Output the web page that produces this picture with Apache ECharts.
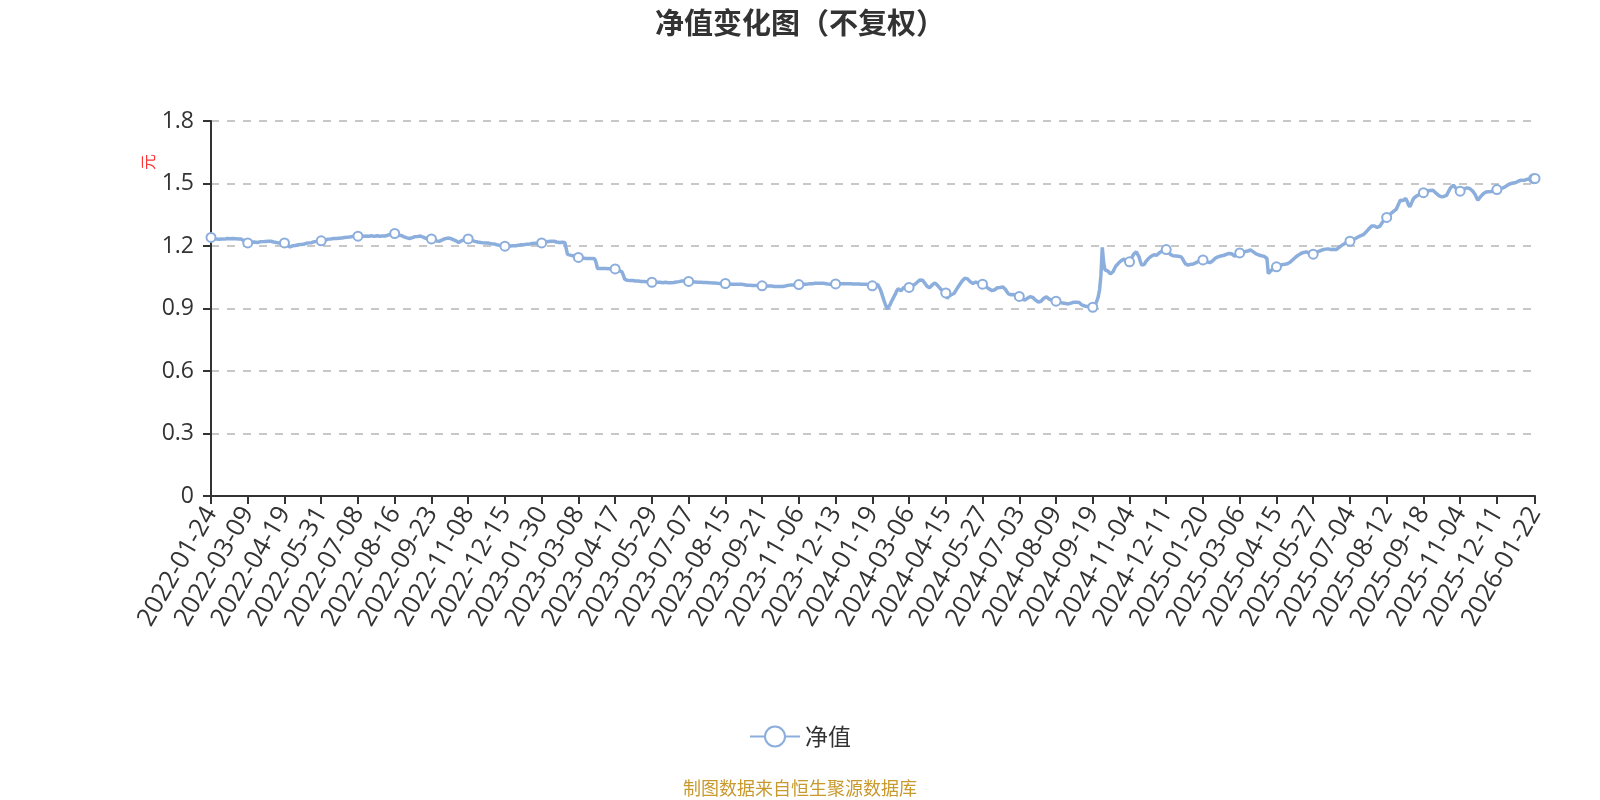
<!DOCTYPE html>
<html>
<head>
<meta charset="utf-8">
<title>净值变化图</title>
<script src="https://cdn.jsdelivr.net/npm/echarts@6/dist/echarts.min.js"></script>
<style>
  html, body { margin: 0; padding: 0; background: #fff; }
  #chart { width: 1600px; height: 800px; }
</style>
</head>
<body>
<div id="chart"></div>
<script>
// trading calendar of the fund: weekdays minus exchange holidays, plus quarter-end NAV dates on weekends
const startDate = '2022-01-24'
const endDate = '2026-01-22'
const holidays = [
    '2022-01-31', '2022-02-01', '2022-02-02', '2022-02-03', '2022-02-04', '2022-04-04', '2022-04-05',
    '2022-05-02', '2022-05-03', '2022-05-04', '2022-06-03', '2022-09-12',
    '2022-10-03', '2022-10-04', '2022-10-05', '2022-10-06', '2022-10-07',
    '2023-01-02', '2023-01-23', '2023-01-24', '2023-01-25', '2023-01-26', '2023-01-27', '2023-04-05',
    '2023-05-01', '2023-05-02', '2023-05-03', '2023-06-22', '2023-06-23', '2023-09-29',
    '2023-10-02', '2023-10-03', '2023-10-04', '2023-10-05', '2023-10-06',
    '2024-01-01', '2024-02-09', '2024-02-12', '2024-02-13', '2024-02-14', '2024-02-15', '2024-02-16',
    '2024-04-04', '2024-04-05', '2024-05-01', '2024-05-02', '2024-05-03', '2024-06-10',
    '2024-09-16', '2024-09-17', '2024-10-01', '2024-10-02', '2024-10-03', '2024-10-04', '2024-10-07',
    '2025-01-01', '2025-01-28', '2025-01-29', '2025-01-30', '2025-01-31', '2025-02-03', '2025-02-04',
    '2025-04-04', '2025-05-01', '2025-05-02', '2025-05-05', '2025-06-02',
    '2025-10-01', '2025-10-02', '2025-10-03', '2025-10-06', '2025-10-07', '2025-10-08',
    '2026-01-01', '2026-01-02'
]
const extraNavDates = ['2022-12-31', '2023-09-30', '2023-12-31', '2024-03-31', '2024-06-30']

// 单位净值（元），按年份
const nav2022 = [
    1.241, 1.238, 1.236, 1.235, 1.233, 1.234, 1.232, 1.233, 1.234, 1.232, 1.233, 1.235, 1.236, 1.234, 1.235, 1.237, 1.236, 1.236, 1.235, 1.236, 1.234, 1.235, 1.234, 1.233, 1.226, 1.220, 1.217,
    1.215, 1.213, 1.216, 1.218, 1.216, 1.219, 1.218, 1.217, 1.219, 1.220, 1.218, 1.221, 1.220, 1.222, 1.221, 1.223, 1.222, 1.223, 1.221, 1.219, 1.218, 1.217, 1.215, 1.214, 1.217, 1.218, 1.216,
    1.215, 1.209, 1.203, 1.199, 1.196, 1.198, 1.201, 1.203, 1.202, 1.204, 1.206, 1.205, 1.207, 1.209, 1.208, 1.211, 1.213, 1.212, 1.215, 1.217, 1.216, 1.219, 1.221, 1.220, 1.222, 1.224, 1.223,
    1.225, 1.227, 1.229, 1.228, 1.231, 1.233, 1.232, 1.234, 1.235, 1.236, 1.234, 1.236, 1.238, 1.237, 1.239, 1.238, 1.239, 1.241, 1.240, 1.242, 1.244, 1.243, 1.245, 1.246, 1.244, 1.246, 1.247,
    1.247, 1.245, 1.246, 1.248, 1.247, 1.246, 1.248, 1.249, 1.247, 1.248, 1.249, 1.248, 1.246, 1.247, 1.249, 1.248, 1.247, 1.249, 1.248, 1.247, 1.248, 1.250, 1.252, 1.255, 1.257, 1.256, 1.258,
    1.260, 1.257, 1.254, 1.252, 1.249, 1.250, 1.247, 1.244, 1.241, 1.239, 1.237, 1.236, 1.238, 1.240, 1.243, 1.245, 1.247, 1.246, 1.248, 1.248, 1.245, 1.242, 1.240, 1.237, 1.235, 1.236, 1.234,
    1.234, 1.231, 1.228, 1.226, 1.224, 1.225, 1.223, 1.226, 1.229, 1.232, 1.235, 1.237, 1.238, 1.239, 1.236, 1.234, 1.231, 1.228, 1.225, 1.221, 1.217, 1.221, 1.225, 1.228, 1.230, 1.232, 1.233,
    1.234, 1.231, 1.228, 1.226, 1.224, 1.222, 1.221, 1.219, 1.218, 1.217, 1.216, 1.215, 1.216, 1.214, 1.213, 1.214, 1.212, 1.211, 1.212, 1.210, 1.208, 1.206, 1.205, 1.203, 1.202, 1.200, 1.199,
    1.199, 1.197, 1.198, 1.199, 1.200, 1.199, 1.201, 1.202, 1.201, 1.203, 1.204, 1.204, 1.206
]
const nav2023 = [
    1.207, 1.206, 1.208, 1.209, 1.210, 1.209, 1.211, 1.212, 1.212, 1.213, 1.211, 1.213, 1.214, 1.213,
    1.215, 1.217, 1.219, 1.218, 1.220, 1.222, 1.221, 1.223, 1.224, 1.223, 1.221, 1.219, 1.218, 1.217, 1.217, 1.218, 1.218, 1.217, 1.216, 1.160, 1.158, 1.156, 1.155, 1.153, 1.151, 1.149, 1.147,
    1.145, 1.142, 1.141, 1.140, 1.141, 1.140, 1.140, 1.139, 1.140, 1.141, 1.140, 1.140, 1.139, 1.120, 1.092, 1.093, 1.092, 1.091, 1.092, 1.093, 1.092, 1.092, 1.091, 1.092, 1.091, 1.090, 1.091,
    1.090, 1.088, 1.085, 1.082, 1.079, 1.076, 1.060, 1.041, 1.037, 1.035, 1.034, 1.034, 1.033, 1.034, 1.033, 1.032, 1.033, 1.032, 1.031, 1.030, 1.031, 1.030, 1.029, 1.028, 1.029, 1.028, 1.027,
    1.026, 1.027, 1.026, 1.025, 1.026, 1.025, 1.026, 1.025, 1.024, 1.025, 1.026, 1.025, 1.024, 1.025, 1.024, 1.025, 1.025, 1.026, 1.027, 1.028, 1.029, 1.031, 1.032, 1.031, 1.032, 1.031, 1.030,
    1.030, 1.028, 1.027, 1.027, 1.026, 1.027, 1.026, 1.026, 1.025, 1.026, 1.025, 1.025, 1.026, 1.025, 1.024, 1.024, 1.023, 1.023, 1.022, 1.023, 1.022, 1.021, 1.021, 1.020, 1.021, 1.020, 1.020,
    1.020, 1.018, 1.016, 1.015, 1.016, 1.015, 1.016, 1.015, 1.016, 1.017, 1.016, 1.015, 1.016, 1.015, 1.014, 1.013, 1.012, 1.013, 1.012, 1.011, 1.010, 1.011, 1.010, 1.009, 1.010, 1.009, 1.009,
    1.009, 1.008, 1.009, 1.008, 1.007, 1.008, 1.007, 1.008, 1.007, 1.006, 1.007, 1.006, 1.005, 1.006, 1.005, 1.006, 1.006, 1.008, 1.010, 1.011, 1.012, 1.013, 1.014, 1.013, 1.014, 1.015, 1.014,
    1.015, 1.016, 1.017, 1.016, 1.017, 1.018, 1.017, 1.018, 1.019, 1.020, 1.019, 1.020, 1.021, 1.022, 1.021, 1.022, 1.021, 1.022, 1.021, 1.020, 1.019, 1.018, 1.017, 1.018, 1.017, 1.018, 1.017,
    1.018, 1.017, 1.018, 1.019, 1.018, 1.019, 1.020, 1.019, 1.020, 1.019, 1.020, 1.019, 1.018, 1.018
]
const nav2024 = [
    1.019, 1.018, 1.017, 1.018, 1.017, 1.016, 1.017, 1.016, 1.015, 1.016, 1.014, 1.012, 1.010,
    1.009, 1.011, 1.013, 1.014, 1.015, 1.010, 0.990, 0.970, 0.950, 0.930, 0.912, 0.898, 0.905, 0.918, 0.932, 0.945, 0.958, 0.970, 0.985, 0.995, 0.998, 0.985, 0.993, 1.000, 1.003, 1.002, 1.004,
    1.001, 1.005, 1.009, 1.012, 1.015, 1.020, 1.026, 1.032, 1.037, 1.039, 1.036, 1.028, 1.018, 1.008, 1.003, 0.999, 1.006, 1.013, 1.019, 1.023, 1.018, 1.010, 1.003, 0.995, 0.988, 0.982, 0.978,
    0.975, 0.948, 0.958, 0.962, 0.966, 0.970, 0.972, 0.982, 0.993, 1.003, 1.012, 1.022, 1.032, 1.040, 1.045, 1.047, 1.042, 1.035, 1.028, 1.023, 1.020, 1.024, 1.027, 1.025, 1.022, 1.019, 1.018,
    1.017, 1.013, 1.008, 1.003, 0.998, 0.993, 0.989, 0.986, 0.985, 0.990, 0.996, 1.000, 1.002, 1.001, 1.003, 1.004, 0.998, 0.990, 0.980, 0.970, 0.964, 0.966, 0.968, 0.967, 0.963, 0.960, 0.959,
    0.958, 0.952, 0.946, 0.942, 0.940, 0.944, 0.949, 0.954, 0.957, 0.959, 0.953, 0.946, 0.940, 0.935, 0.931, 0.929, 0.935, 0.942, 0.949, 0.954, 0.956, 0.950, 0.945, 0.941, 0.939, 0.937, 0.936,
    0.935, 0.933, 0.931, 0.929, 0.928, 0.926, 0.925, 0.924, 0.924, 0.922, 0.924, 0.926, 0.928, 0.930, 0.931, 0.930, 0.929, 0.929, 0.922, 0.917, 0.913, 0.912, 0.911, 0.910, 0.909, 0.908, 0.907,
    0.906, 0.912, 0.922, 0.936, 0.956, 0.990, 1.060, 1.193, 1.120, 1.085, 1.076, 1.080, 1.072, 1.066, 1.063, 1.078, 1.092, 1.104, 1.111, 1.118, 1.125, 1.130, 1.134, 1.137, 1.133, 1.128, 1.125,
    1.124, 1.135, 1.148, 1.160, 1.168, 1.172, 1.165, 1.148, 1.125, 1.108, 1.100, 1.112, 1.125, 1.134, 1.140, 1.145, 1.151, 1.155, 1.158, 1.157, 1.156, 1.162, 1.168, 1.172, 1.176, 1.178, 1.181,
    1.183, 1.175, 1.167, 1.160, 1.156, 1.153, 1.150, 1.152, 1.149, 1.151, 1.149, 1.148, 1.138, 1.126, 1.115
]
const nav2025 = [
    1.110, 1.108, 1.114, 1.112, 1.110, 1.114, 1.116, 1.120, 1.124, 1.128, 1.131, 1.133,
    1.133, 1.130, 1.127, 1.124, 1.122, 1.120, 1.121, 1.128, 1.135, 1.141, 1.145, 1.148, 1.150, 1.152, 1.155, 1.154, 1.157, 1.160, 1.162, 1.164, 1.161, 1.163, 1.158, 1.152, 1.148, 1.155, 1.162,
    1.167, 1.170, 1.173, 1.171, 1.174, 1.177, 1.176, 1.179, 1.181, 1.178, 1.172, 1.166, 1.162, 1.159, 1.157, 1.155, 1.153, 1.151, 1.150, 1.148, 1.140, 1.068, 1.075, 1.082, 1.088, 1.092, 1.096,
    1.100, 1.103, 1.106, 1.108, 1.110, 1.109, 1.112, 1.114, 1.115, 1.116, 1.122, 1.128, 1.134, 1.140, 1.146, 1.151, 1.156, 1.161, 1.164, 1.166, 1.169, 1.171, 1.172, 1.170, 1.166, 1.163, 1.162,
    1.161, 1.165, 1.168, 1.172, 1.175, 1.177, 1.180, 1.182, 1.184, 1.185, 1.184, 1.186, 1.185, 1.183, 1.185, 1.184, 1.182, 1.183, 1.188, 1.193, 1.198, 1.203, 1.207, 1.211, 1.214, 1.217, 1.220,
    1.223, 1.226, 1.229, 1.233, 1.236, 1.240, 1.243, 1.247, 1.250, 1.253, 1.255, 1.261, 1.268, 1.275, 1.283, 1.290, 1.296, 1.300, 1.296, 1.292, 1.289, 1.287, 1.295, 1.305, 1.315, 1.323, 1.331,
    1.337, 1.342, 1.348, 1.355, 1.360, 1.366, 1.371, 1.376, 1.380, 1.405, 1.420, 1.425, 1.418, 1.424, 1.428, 1.415, 1.398, 1.388, 1.402, 1.418, 1.430, 1.436, 1.440, 1.444, 1.447, 1.451, 1.454,
    1.456, 1.459, 1.462, 1.464, 1.462, 1.466, 1.465, 1.468, 1.462, 1.455, 1.448, 1.444, 1.440, 1.436, 1.433, 1.438, 1.431, 1.443, 1.456, 1.468, 1.480, 1.488, 1.492, 1.484, 1.476, 1.470, 1.466,
    1.463, 1.466, 1.470, 1.474, 1.477, 1.479, 1.481, 1.476, 1.470, 1.465, 1.460, 1.447, 1.432, 1.420, 1.428, 1.437, 1.445, 1.451, 1.457, 1.459, 1.456, 1.460, 1.463, 1.461, 1.465, 1.468, 1.469,
    1.471, 1.472, 1.474, 1.476, 1.478, 1.479, 1.484, 1.489, 1.493, 1.496, 1.499, 1.500, 1.503, 1.501, 1.505
]
const nav2026 = [
    1.508, 1.512, 1.509, 1.516, 1.518, 1.515, 1.519, 1.520, 1.518, 1.521, 1.519, 1.522, 1.523, 1.524
]

const yTicks = [0, 0.3, 0.6, 0.9, 1.2, 1.5, 1.8]
const seriesName = '净值'
const unitName = '元'

function buildDates () {
    const out = []
    const off = new Set(holidays)
    const extra = new Set(extraNavDates)
    const end = new Date(endDate + 'T00:00:00Z')
    for (let d = new Date(startDate + 'T00:00:00Z'); d <= end; d.setUTCDate(d.getUTCDate() + 1)) {
        const s = d.toISOString().slice(0, 10)
        const wd = d.getUTCDay()
        if ((wd !== 0 && wd !== 6 && !off.has(s)) || extra.has(s)) out.push(s)
    }
    return out
}

const dates = buildDates()
const navData = nav2022.concat(nav2023, nav2024, nav2025, nav2026)
if (dates.length !== navData.length) {
    throw new Error('length mismatch: ' + dates.length + ' dates vs ' + navData.length + ' values')
}

const fontFamily = '"Open Sans", "Noto Sans CJK SC", sans-serif'
const cjkFont = '"Noto Sans CJK SC", sans-serif'
const myChart = echarts.init(document.getElementById('chart'), null, { renderer: 'canvas' })

const option = {
    animation: false,
    textStyle: { fontFamily: fontFamily },
    title: [
        {
            text: '净值变化图（不复权）',
            left: 'center',
            top: 3,
            textStyle: { fontSize: 29, fontWeight: 'bold', color: '#333', fontFamily: cjkFont }
        },
        {
            text: '制图数据来自恒生聚源数据库',
            left: 'center',
            top: 774,
            textStyle: { fontSize: 18, fontWeight: 'normal', color: '#c8992c', fontFamily: cjkFont }
        }
    ],
    legend: {
        data: [seriesName],
        left: 'center',
        top: 720,
        itemWidth: 50,
        itemHeight: 25,
        textStyle: { fontSize: 23, color: '#333', fontFamily: cjkFont }
    },
    graphic: [
        {
            type: 'text',
            x: 148,
            y: 162,
            rotation: Math.PI / 2,
            style: { text: unitName, fill: '#ff3333', fontSize: 16, align: 'center', verticalAlign: 'middle', fontFamily: cjkFont }
        }
    ],
    grid: {
        left: 211,
        right: 65,
        top: 121,
        bottom: 304,
        containLabel: false
    },
    xAxis: {
        type: 'category',
        data: dates,
        boundaryGap: false,
        axisLine: { lineStyle: { color: '#333', width: 2 } },
        axisTick: { length: 8, lineStyle: { color: '#333', width: 2 } },
        axisLabel: {
            interval: 26,
            rotate: 60,
            margin: 13,
            showMaxLabel: true,
            fontSize: 25.5,
            color: '#333'
        },
        splitLine: { show: false }
    },
    yAxis: {
        type: 'value',
        min: yTicks[0],
        max: yTicks[yTicks.length - 1],
        interval: 0.3,
        axisLine: { show: true, lineStyle: { color: '#333', width: 2 } },
        axisTick: { show: true, length: 8, lineStyle: { color: '#333', width: 2 } },
        axisLabel: { fontSize: 23, color: '#333', margin: 17 },
        splitLine: { lineStyle: { type: [8, 8], color: '#c8c8c8', width: 2 } }
    },
    series: [
        {
            name: seriesName,
            type: 'line',
            data: navData,
            symbol: 'emptyCircle',
            symbolSize: 9,
            showSymbol: true,
            showAllSymbol: 'auto',
            itemStyle: { color: '#8caedd', borderWidth: 2 },
            lineStyle: { color: '#8caedd', width: 3.5 }
        }
    ]
}

myChart.setOption(option)
window.addEventListener('resize', function () {
    myChart.resize()
})
</script>
</body>
</html>
